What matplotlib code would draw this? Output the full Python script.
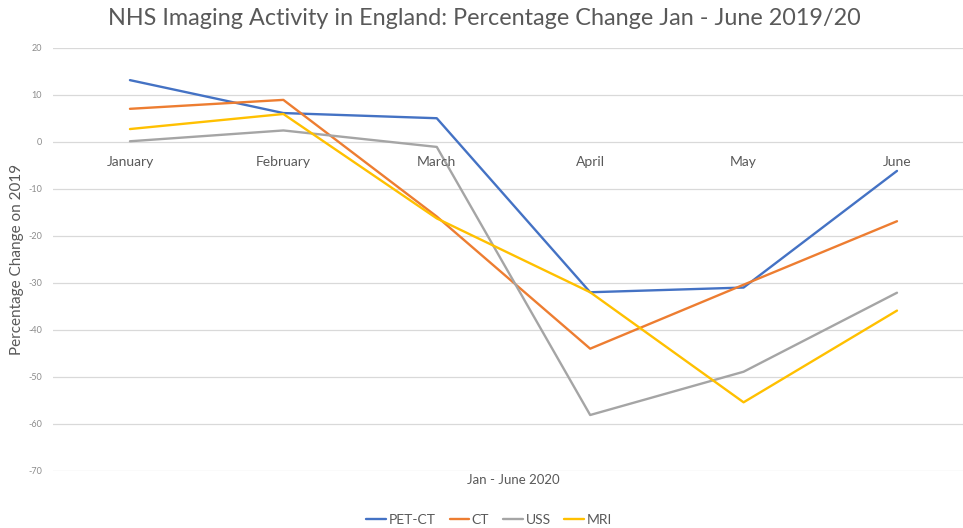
import matplotlib
matplotlib.use("Agg")
import matplotlib.pyplot as plt

# --------------------------------------------------------------------------- #
# Percentage change on 2019
# --------------------------------------------------------------------------- #
months = ["January", "February", "March", "April", "May", "June"]
pet_ct = [13.1, 6.1, 5.0, -32.0, -31.0, -6.2]
ct     = [7.0, 8.9, -15.9, -44.0, -30.4, -16.9]
uss    = [0.1, 2.4, -1.1, -58.1, -48.9, -32.1]
mri    = [2.7, 5.9, -16.3, -32.0, -55.4, -35.9]
y_ticks = [20, 10, 0, -10, -20, -30, -40, -50, -60, -70]

series = [("PET-CT", pet_ct, "#4472C4"),
          ("CT", ct, "#ED7D31"),
          ("USS", uss, "#A5A5A5"),
          ("MRI", mri, "#FFC000")]

TEXT = "#595959"
plt.rcParams["font.family"] = ["Lato", "DejaVu Sans"]

fig = plt.figure(figsize=(9.63, 5.28), dpi=100)
# plot area runs a little past the right edge, as in the cropped original
ax = fig.add_axes([0.0553, 0.108, 0.9558, 0.8017])

x = list(range(len(months)))
for name, vals, col in series:
    ax.plot(x, vals, color=col, lw=1.7, label=name, solid_capstyle="round")

ax.set_xlim(-0.5, 5.5)
ax.set_ylim(-70, 20)
ax.set_yticks(y_ticks)
ax.set_yticklabels([str(t) for t in y_ticks])
ax.tick_params(axis="y", length=0, pad=8, labelsize=6.5, labelcolor="#8c8c8c")
ax.set_xticks([])
ax.grid(axis="y", color="#d9d9d9", lw=0.9)
ax.set_axisbelow(True)
for s in ax.spines.values():
    s.set_visible(False)

# category labels sit along the zero line, Excel style
for i, m in enumerate(months):
    ax.annotate(m, (i, 0), xytext=(0, -14.5), textcoords="offset points",
                ha="center", va="center", fontsize=10, color=TEXT)

ax.set_xlabel("Jan - June 2020", fontsize=9.5, color=TEXT, labelpad=2)
ax.set_ylabel("Percentage Change on 2019", fontsize=11, color=TEXT, labelpad=3)

fig.suptitle("NHS Imaging Activity in England: Percentage Change Jan - June 2019/20",
             x=0.503, y=0.985, fontsize=16.8, color=TEXT)

fig.legend(loc="center", bbox_to_anchor=(0.508, 0.016), ncol=4, frameon=False,
           fontsize=10, labelcolor=TEXT, handlelength=1.4, handletextpad=0.2,
           columnspacing=1.0)

fig.savefig("out.png", dpi=100)
